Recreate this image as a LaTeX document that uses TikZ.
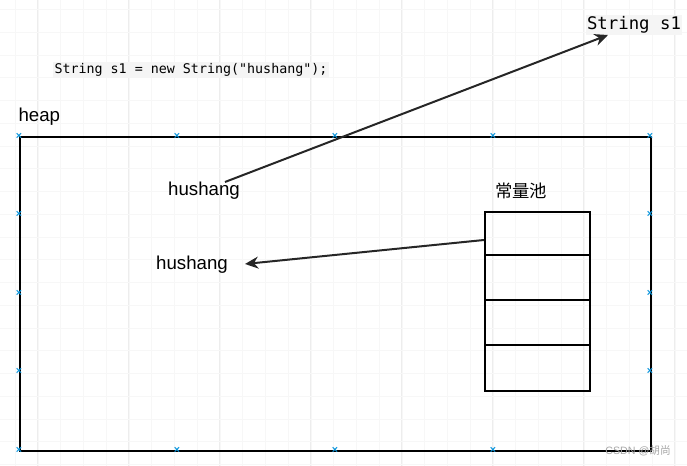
\documentclass[tikz,border=0pt]{standalone}
\usepackage{fontspec}
\setmainfont{Liberation Sans}
\setmonofont{DejaVu Sans Mono}
\newfontfamily\cjk{Noto Sans CJK SC}
\usetikzlibrary{arrows.meta}
\begin{document}
\begin{tikzpicture}[x=0.75pt,y=-0.75pt,
  lbl/.style={inner sep=1pt,font=\fontsize{14}{16}\selectfont},
  codebg/.style={fill=gray!8,inner sep=1pt},
  arr/.style={draw=black!85,line width=1.5pt,-{Stealth[length=10pt,width=9pt]}},
  handle/.style={text=cyan!80!blue,font=\fontsize{8}{8}\selectfont\bfseries,inner sep=0pt}]
\useasboundingbox (0,0) rectangle (687,466);
\foreach \i in {0,...,15} {\draw[black!7,line width=0.4pt] ({37.7+45.5*(\i-1)},0) -- ++(0,466);}
\foreach \i in {0,...,11} {\draw[black!7,line width=0.4pt] (0,{32+45.5*(\i-1)}) -- ++(687,0);}
\foreach \i in {0,...,31} {\draw[black!3,line width=0.3pt] ({15+22.75*(\i-1)},0) -- ++(0,466);}
\foreach \i in {0,...,22} {\draw[black!3,line width=0.3pt] (0,{9.25+22.75*(\i-1)}) -- ++(687,0);}
\node[draw,line width=1.5pt,minimum width=631pt*0.75,minimum height=314pt*0.75,inner sep=0pt,anchor=north west] (heap) at (19,136) {};
\foreach \x in {19,177,335,493} {\node[handle] at (\x,136) {×}; \node[handle] at (\x,450) {×};}
\node[handle] at (650,136) {×};
\foreach \y in {214,293,371} {\node[handle] at (19,\y) {×}; \node[handle] at (650,\y) {×};}
\node[lbl,anchor=west] (heapl) at (17,117) {heap};
\node[codebg,font=\ttfamily\fontsize{10}{11}\selectfont] (code) at (191,70) {String s1 = new String("hushang");};
\node[codebg,font=\ttfamily\fontsize{13}{14}\selectfont] (s1) at (634,25) {String s1};
\node[lbl] (h1) at (204,191) {hushang};
\node[lbl] (h2) at (192,265) {hushang};
\node[lbl,font=\cjk\fontsize{13}{15}\selectfont] (pool) at (521,191) {常量池};
\foreach \a/\b [count=\k] in {211/254,254/299,299/344,344/390}
  \node[draw,line width=1.5pt,minimum width=105pt*0.75,minimum height={(\b-\a)*0.75pt},inner sep=0pt,anchor=north west] (c\k) at (484,\a) {};
\coordinate (a1) at (225,182);
\coordinate (t1) at (608,35);
\draw[arr] (a1) -- (t1);
\coordinate (a2) at (484,240);
\coordinate (t2) at (245,264);
\draw[arr] (a2) -- (t2);
\node[text=black!35,font=\fontsize{8}{9}\selectfont] (wm) at (638,451) {CSDN @{\cjk 胡尚}};
\end{tikzpicture}
\end{document}
